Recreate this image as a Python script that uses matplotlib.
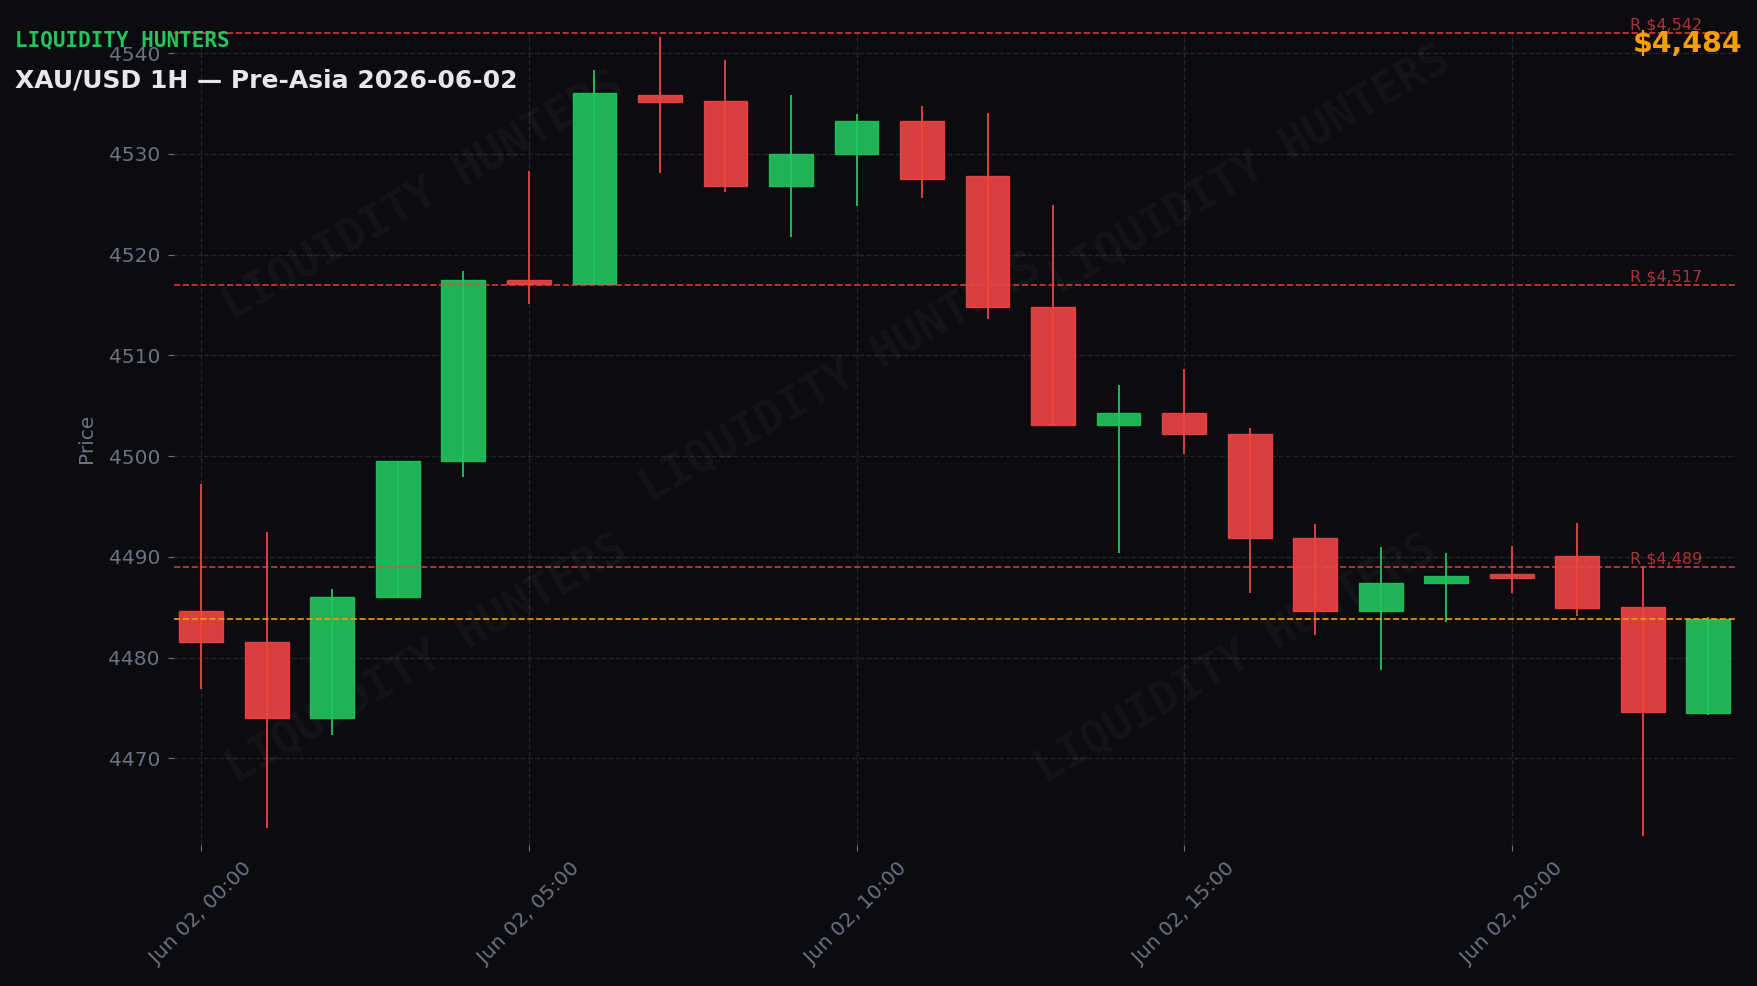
import numpy as np
import pandas as pd
import matplotlib
matplotlib.use("Agg")
import matplotlib.pyplot as plt
import matplotlib.dates as mdates

# hourly candles, Jun 02 2026
times = pd.date_range("2026-06-02 00:00", periods=24, freq="h")
opens = [4484.6, 4481.5, 4474.0, 4486.0, 4499.5, 4517.5, 4517.1, 4535.8,
         4535.2, 4526.8, 4530.0, 4533.3, 4527.8, 4514.8, 4503.1, 4504.3,
         4502.2, 4491.9, 4484.6, 4487.4, 4488.3, 4490.1, 4485.0, 4474.5]
highs = [4497.2, 4492.5, 4486.8, 4499.5, 4518.4, 4528.3, 4538.3, 4541.6,
         4539.3, 4535.8, 4534.0, 4534.8, 4534.1, 4524.9, 4507.1, 4508.6,
         4502.8, 4493.3, 4491.0, 4490.4, 4491.1, 4493.4, 4489.0, 4484.0]
lows = [4476.9, 4463.1, 4472.3, 4485.9, 4497.9, 4515.1, 4517.1, 4528.1,
        4526.2, 4521.7, 4524.8, 4525.6, 4513.6, 4503.1, 4490.4, 4500.2,
        4486.4, 4482.2, 4478.8, 4483.5, 4486.4, 4484.1, 4462.3, 4474.3]
closes = [4481.5, 4474.0, 4486.0, 4499.5, 4517.5, 4517.1, 4536.0, 4535.1,
          4526.8, 4530.0, 4533.3, 4527.5, 4514.8, 4503.1, 4504.3, 4502.2,
          4491.9, 4484.6, 4487.4, 4488.1, 4487.9, 4484.9, 4474.6, 4483.8]

resistances = [4542.0, 4517.0, 4489.0]
last_price = 4483.8

BG = "#0b0b10"
GREEN = "#22c55e"
RED = "#ef4444"
ORANGE = "#f59e0b"
GREY = "#6b7280"


def draw_candles(ax, x, width):
    for xi, o, h, l, c in zip(x, opens, highs, lows, closes):
        col = GREEN if c >= o else RED
        ax.vlines(xi, l, h, color=col, linewidth=1.3, zorder=2)
        ax.bar(xi, max(abs(c - o), 0.3), bottom=min(o, c), width=width,
               color=col, alpha=0.9, edgecolor=col, linewidth=1.0, zorder=3)


def main():
    fig = plt.figure(figsize=(17.58, 9.86), dpi=100, facecolor=BG)
    ax = fig.add_axes([0.0989, 0.143, 0.8884, 0.8256], facecolor=BG)

    x = mdates.date2num(times.to_pydatetime())
    hour = 1.0 / 24

    # faint watermarks
    for wx, wy in [(0.159, 0.797), (0.427, 0.573), (0.689, 0.829),
                   (0.162, 0.228), (0.680, 0.228)]:
        ax.text(wx, wy, "LIQUIDITY HUNTERS", transform=ax.transAxes,
                fontsize=32, family="DejaVu Sans Mono", fontweight="bold",
                color="white", alpha=0.04, rotation=30,
                ha="center", va="center", zorder=1)

    draw_candles(ax, x, 0.67 * hour)

    for r in resistances:
        ax.axhline(r, color=RED, linestyle="--", linewidth=1.2, alpha=0.85, zorder=4)
        ax.text(x[-1] - 0.09 * hour, r, f"R ${r:,.0f}", color=RED, alpha=0.7,
                fontsize=11.5, ha="right", va="bottom", zorder=5)
    ax.axhline(last_price, color=ORANGE, linestyle="--", linewidth=1.2, zorder=4)

    ax.set_xlim(x[0] - 0.42 * hour, x[-1] + 0.42 * hour)
    ax.set_ylim(4461.4, 4542.2)
    ax.set_yticks(np.arange(4470, 4541, 10))
    ax.xaxis.set_major_locator(mdates.HourLocator(byhour=[0, 5, 10, 15, 20]))
    ax.xaxis.set_major_formatter(mdates.DateFormatter("%b %d, %H:%M"))
    ax.tick_params(axis="x", rotation=45)
    ax.tick_params(colors=GREY, labelsize=14.5, length=4.5, pad=5.5)
    for s in ax.spines.values():
        s.set_visible(False)
    ax.grid(True, linestyle="--", color="#24242e", linewidth=1.0)
    ax.set_axisbelow(True)
    ax.set_ylabel("Price", color=GREY, fontsize=14.5, labelpad=9)

    fig.text(0.0083, 0.9526, "LIQUIDITY HUNTERS", color=GREEN, fontsize=15,
             family="DejaVu Sans Mono", fontweight="bold", va="baseline")
    fig.text(0.0083, 0.9115, "XAU/USD 1H — Pre-Asia 2026-06-02", color="#e5e7eb",
             fontsize=18, fontweight="bold", va="baseline")
    fig.text(0.991, 0.947, f"${last_price:,.0f}", color=ORANGE, fontsize=20.5,
             fontweight="bold", ha="right", va="baseline")

    fig.savefig("out.png", dpi=100, facecolor=BG)


if __name__ == "__main__":
    main()
